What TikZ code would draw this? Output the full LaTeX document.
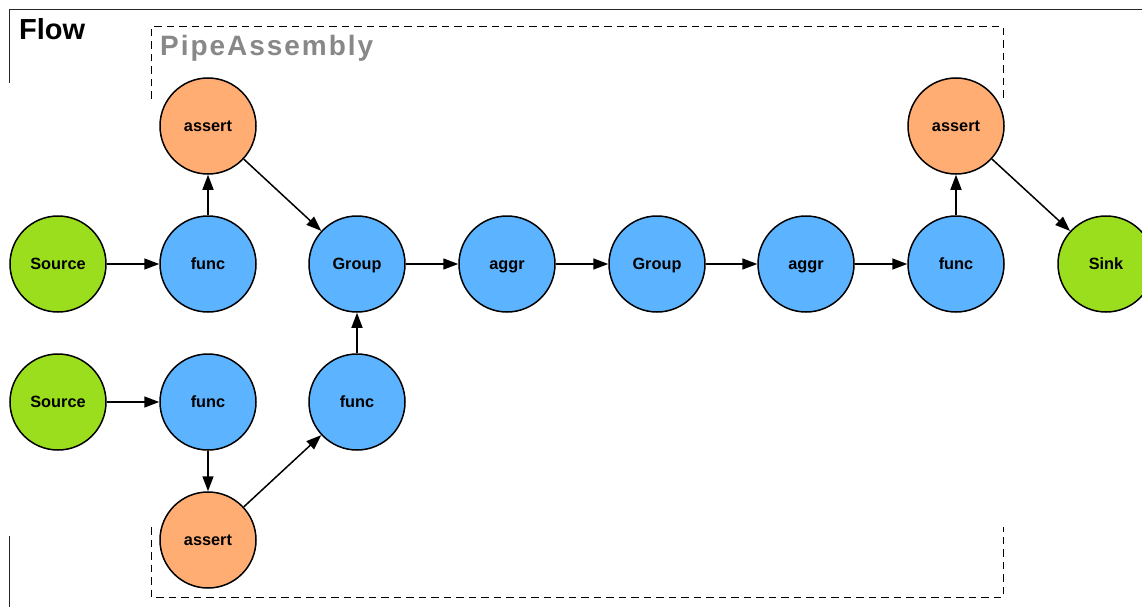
\documentclass[tikz,border=0pt]{standalone}
\usepackage{fontspec}
\setmainfont{Liberation Sans}
\newfontfamily\spacedfont[LetterSpace=7]{Liberation Sans}
\usetikzlibrary{arrows.meta}
\definecolor{srcgreen}{HTML}{9BDE1E}
\definecolor{fnblue}{HTML}{5CB3FF}
\definecolor{asorange}{HTML}{FFAD73}
\definecolor{titlegray}{HTML}{888888}
\tikzset{
  op/.style={circle, draw=black, line width=1.5pt, minimum size=96pt, inner sep=0pt,
    text height=11.7pt, text depth=0pt,
    font=\fontsize{16.3pt}{18pt}\selectfont\bfseries},
  src/.style={op, fill=srcgreen},
  fn/.style={op, fill=fnblue},
  chk/.style={op, fill=asorange},
  conn/.style={line width=1.5pt, -{Triangle[length=15pt,width=11pt]}},
  frameline/.style={line width=1.5pt, draw=black!85},
  dashline/.style={line width=1.6pt, dash pattern=on 7.5pt off 5pt},
}
\begin{document}
\begin{tikzpicture}[x=1pt,y=-1pt]
\useasboundingbox (0,0) rectangle (1142,607);
% outer Flow frame (partial)
\coordinate (f1) at (9.7,83);
\coordinate (f2) at (9.7,9.5);
\coordinate (f3) at (1142,9.5);
\coordinate (f4) at (9.7,536);
\coordinate (f5) at (9.7,607);
\draw[frameline] (f1) -- (f2) -- (f3);
\draw[frameline] (f4) -- (f5);
\node[anchor=base west, inner sep=0pt, font=\fontsize{29pt}{32pt}\selectfont\bfseries] (flowlbl) at (19,40) {Flow};
% PipeAssembly dashed frame (partial)
\coordinate (p1) at (151.5,99);
\coordinate (p2) at (151.5,26.7);
\coordinate (p3) at (1003.3,26.7);
\coordinate (p4) at (1003.3,99);
\coordinate (p5) at (151.5,527);
\coordinate (p6) at (151.5,597.3);
\coordinate (p7) at (1003.3,597.3);
\coordinate (p8) at (1003.3,527);
\draw[dashline] (p1) -- (p2) -- (p3) -- (p4);
\draw[dashline] (p5) -- (p6) -- (p7) -- (p8);
\node[anchor=base west, inner sep=0pt, text=titlegray, font=\spacedfont\fontsize{28pt}{30pt}\selectfont\bfseries] (pipelbl) at (160,56) {PipeAssembly};
% nodes
\node[chk] (a1) at (208,126) {assert};
\node[chk] (a2) at (956,126) {assert};
\node[src] (s1) at (58,264) {Source};
\node[fn] (f1n) at (208,264) {func};
\node[fn] (g1) at (357,264) {Group};
\node[fn] (ag1) at (507,264) {aggr};
\node[fn] (g2) at (657,264) {Group};
\node[fn] (ag2) at (806,264) {aggr};
\node[fn] (f4n) at (956,264) {func};
\node[src] (sink) at (1106,264) {Sink};
\node[src] (s2) at (58,402) {Source};
\node[fn] (f2n) at (208,402) {func};
\node[fn] (f3n) at (357,402) {func};
\node[chk] (a3) at (208,540) {assert};
% connectors
\draw[conn] (s1) -- (f1n);
\draw[conn] (f1n) -- (a1);
\draw[conn] (a1) -- (g1);
\draw[conn] (g1) -- (ag1);
\draw[conn] (ag1) -- (g2);
\draw[conn] (g2) -- (ag2);
\draw[conn] (ag2) -- (f4n);
\draw[conn] (f4n) -- (a2);
\draw[conn] (a2) -- (sink);
\draw[conn] (s2) -- (f2n);
\draw[conn] (f2n) -- (a3);
\draw[conn] (a3) -- (f3n);
\draw[conn] (f3n) -- (g1);
\end{tikzpicture}
\end{document}
